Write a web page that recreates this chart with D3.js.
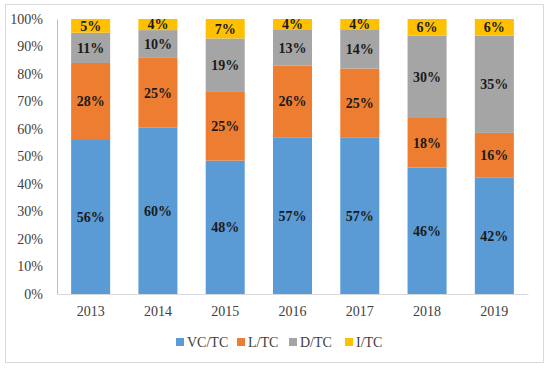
<!DOCTYPE html>
<html>
<head>
<meta charset="utf-8">
<script src="https://cdn.jsdelivr.net/npm/d3@7"></script>
<style>
  body { margin: 0; background: #fff; }
  svg { font-family: "Liberation Serif", "DejaVu Serif", serif; }
</style>
</head>
<body>
<div class="chart"></div>
<script>
const years = ['2013', '2014', '2015', '2016', '2017', '2018', '2019'];
const seriesNames = ['VC/TC', 'L/TC', 'D/TC', 'I/TC'];
const vcTc = [56, 60, 48, 57, 57, 46, 42];
const lTc = [28, 25, 25, 26, 25, 18, 16];
const dTc = [11, 10, 19, 13, 14, 30, 35];
const iTc = [5, 4, 7, 4, 4, 6, 6];
const yTicks = [0, 0.1, 0.2, 0.3, 0.4, 0.5, 0.6, 0.7, 0.8, 0.9, 1];
const colors = ['#5b9bd5', '#ed7d31', '#a5a5a5', '#ffc000'];

function displayChart() {
  const w = 550;
  const h = 368;
  const margin = { top: 19, right: 22, bottom: 74, left: 57 };
  const serif = '"Liberation Serif", "DejaVu Serif", serif';

  const rows = years.map((y, i) => ({
    year: y,
    'VC/TC': vcTc[i],
    'L/TC': lTc[i],
    'D/TC': dTc[i],
    'I/TC': iTc[i]
  }));

  const stacked = d3.stack()
    .keys(seriesNames)
    .offset(d3.stackOffsetExpand)(rows);

  const xScale = d3.scaleBand()
    .domain(years)
    .range([margin.left, w - margin.right])
    .paddingInner(0.42)
    .paddingOuter(0.21);
  const yScale = d3.scaleLinear()
    .domain([0, 1])
    .range([h - margin.bottom, margin.top]);
  const color = d3.scaleOrdinal().domain(seriesNames).range(colors);

  const svg = d3.select('.chart')
    .append('svg')
    .attr('width', w)
    .attr('height', h);

  svg.append('rect')
    .attr('x', 5.5)
    .attr('y', 4.5)
    .attr('width', 538)
    .attr('height', 358)
    .attr('fill', '#fff')
    .attr('stroke', '#d9d9d9');

  const yAxis = svg.append('g')
    .attr('transform', `translate(${margin.left}, 0)`)
    .call(d3.axisLeft(yScale).tickValues(yTicks).tickFormat(d3.format('.0%')).tickSize(0).tickPadding(14))
    .attr('font-family', serif)
    .attr('font-size', 14);
  yAxis.select('.domain').attr('stroke', '#bfbfbf');
  yAxis.selectAll('text').attr('fill', '#404040');

  svg.selectAll('g.layer')
    .data(stacked)
    .enter()
    .append('g')
    .attr('class', 'layer')
    .attr('fill', d => color(d.key))
    .selectAll('rect')
    .data(d => d)
    .enter()
    .append('rect')
    .attr('x', d => xScale(d.data.year))
    .attr('y', d => yScale(d[1]))
    .attr('width', xScale.bandwidth())
    .attr('height', d => yScale(d[0]) - yScale(d[1]));

  const xAxis = svg.append('g')
    .attr('transform', `translate(0, ${h - margin.bottom})`)
    .call(d3.axisBottom(xScale).tickSize(0).tickPadding(12))
    .attr('font-family', serif)
    .attr('font-size', 14);
  xAxis.select('.domain').attr('stroke', '#d9d9d9');
  xAxis.selectAll('text').attr('fill', '#404040');

  stacked.forEach(layer => {
    svg.append('g')
      .selectAll('text')
      .data(layer)
      .enter()
      .append('text')
      .attr('x', d => xScale(d.data.year) + xScale.bandwidth() / 2)
      .attr('y', d => (yScale(d[0]) + yScale(d[1])) / 2)
      .attr('dy', '0.35em')
      .attr('text-anchor', 'middle')
      .attr('font-size', 14)
      .attr('font-weight', 'bold')
      .attr('fill', '#1a1a1a')
      .text(d => d.data[layer.key] + '%');
  });

  const legendX = [176, 237, 289, 345];
  const legend = svg.append('g')
    .selectAll('g')
    .data(seriesNames)
    .enter()
    .append('g')
    .attr('transform', (d, i) => `translate(${legendX[i]}, 342)`);
  legend.append('rect')
    .attr('x', 0)
    .attr('y', -4)
    .attr('width', 8)
    .attr('height', 8)
    .attr('fill', d => color(d));
  legend.append('text')
    .attr('x', 11)
    .attr('dy', '0.35em')
    .attr('font-size', 14)
    .attr('fill', '#404040')
    .text(d => d);
}

displayChart();
</script>
</body>
</html>
